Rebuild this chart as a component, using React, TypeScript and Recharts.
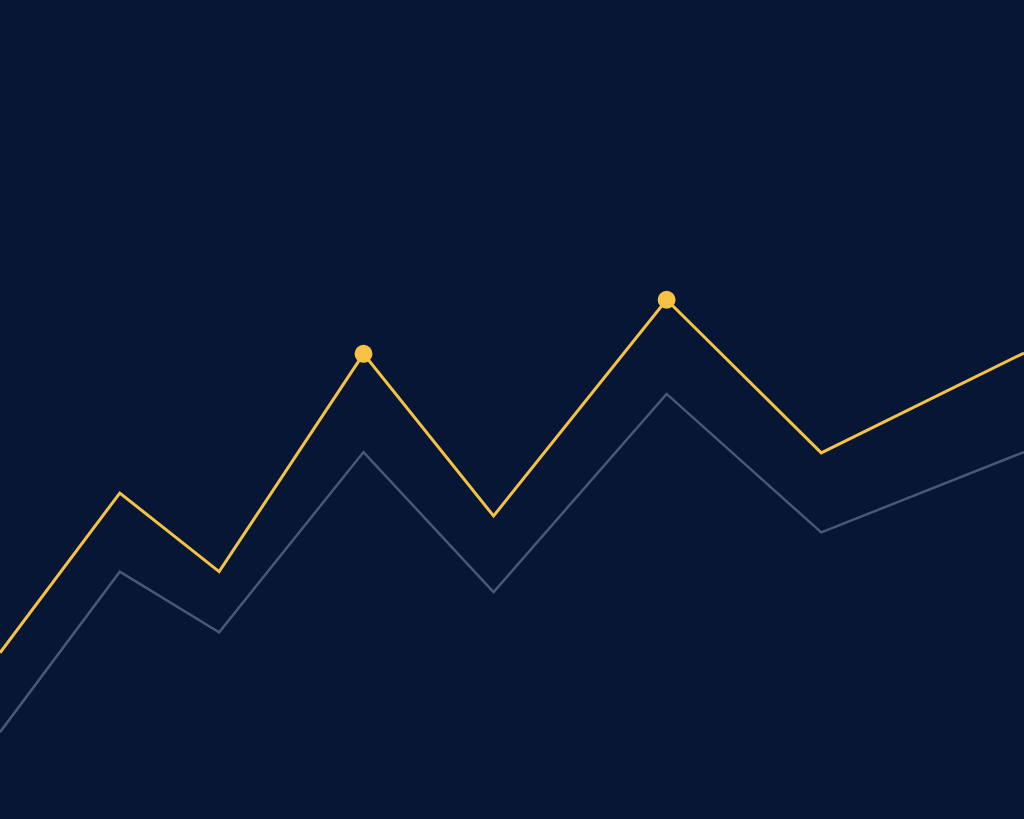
import { LineChart, Line, XAxis, YAxis } from 'recharts';

// Position along the period (0..100) for each point
const positions = [0, 11.7, 21.4, 35.5, 48.2, 65.1, 80.2, 100];

// Series values (0..100 scale)
const primaryValues = [20.3, 39.8, 30.2, 56.8, 37.0, 63.4, 44.7, 56.9];
const baselineValues = [10.6, 30.2, 22.8, 44.8, 27.7, 51.9, 35.0, 44.8];

// Which primary points get a marker
const highlighted = [false, false, false, true, false, true, false, false];

const chartData = positions.map((pos, i) => ({
  pos,
  primary: primaryValues[i],
  baseline: baselineValues[i],
  highlight: highlighted[i],
}));

const BG = '#071634';
const YELLOW = '#F5C244';
const SLATE = '#4A5873';

const HighlightDot = (props: any) => {
  const { cx, cy, index, payload } = props;
  if (!payload?.highlight) return <g key={`dot-${index}`} />;
  return <circle key={`dot-${index}`} cx={cx} cy={cy} r={9} fill={YELLOW} stroke="none" />;
};

export default function App() {
  return (
    <div
      style={{
        position: 'absolute',
        left: 0,
        top: 0,
        width: 1024,
        height: 819,
        background: BG,
        overflow: 'hidden',
      }}
    >
      <LineChart width={1024} height={819} data={chartData} margin={{ top: 0, right: 0, bottom: 0, left: 0 }}>
        <XAxis dataKey="pos" type="number" domain={[0, 100]} hide />
        <YAxis type="number" domain={[0, 100]} hide />
        <Line
          type="linear"
          dataKey="baseline"
          stroke={SLATE}
          strokeWidth={2.5}
          dot={false}
          activeDot={false}
          isAnimationActive={false}
        />
        <Line
          type="linear"
          dataKey="primary"
          stroke={YELLOW}
          strokeWidth={3}
          dot={HighlightDot}
          activeDot={false}
          isAnimationActive={false}
        />
      </LineChart>
    </div>
  );
}
